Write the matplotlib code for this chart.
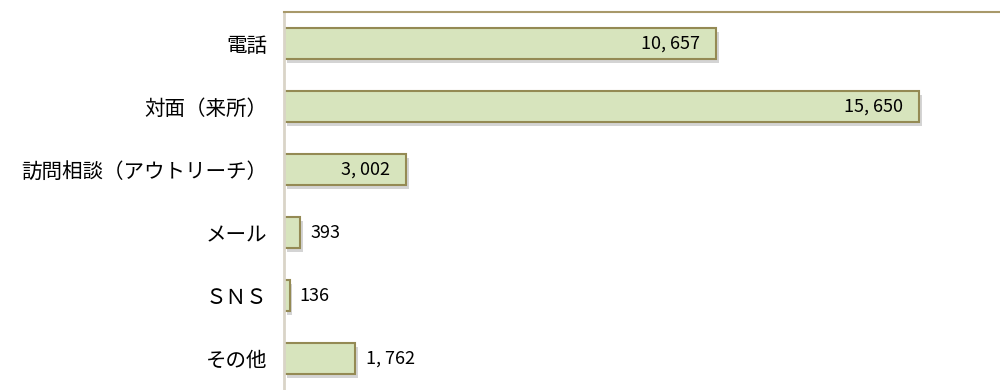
import matplotlib.pyplot as plt
import matplotlib.patheffects as pe

plt.rcParams['font.family'] = ['Noto Sans CJK JP', 'DejaVu Sans']

categories = ['電話', '対面（来所）', '訪問相談（アウトリーチ）', 'メール', 'ＳＮＳ', 'その他']
values = [10657, 15650, 3002, 393, 136, 1762]
inside = [True, True, True, False, False, False]

fig = plt.figure(figsize=(10, 3.9), dpi=100)
ax = fig.add_axes([0.284, 0.0, 0.716, 0.969])

pos = list(range(len(categories)))
bars = ax.barh(pos, values, height=0.5, color='#D7E4BD', edgecolor='#948A54', linewidth=1.5,
               path_effects=[pe.SimplePatchShadow(offset=(2, -3), alpha=0.25, shadow_rgbFace='#555555'),
                             pe.Normal()])

for p, v, ins in zip(pos, values, inside):
    txt = f'{v:,}'.replace(',', ', ')
    if ins:
        ax.text(v - 400, p, txt, ha='right', va='center', fontsize=13, color='black')
    else:
        ax.text(v + 250, p, txt, ha='left', va='center', fontsize=13, color='black')

ax.set_xlim(0, 17650)
ax.set_ylim(5.5, -0.5)
ax.set_yticks(pos)
ax.set_yticklabels(categories, fontsize=14.8)
ax.tick_params(axis='y', length=0, pad=12)
ax.set_xticks([])

ax.spines['top'].set_color('#A8996A')
ax.spines['top'].set_linewidth(1.5)
ax.spines['left'].set_color('#D9D4C7')
ax.spines['left'].set_linewidth(2)
ax.spines['right'].set_visible(False)
ax.spines['bottom'].set_visible(False)

plt.savefig('out.png', dpi=100)
